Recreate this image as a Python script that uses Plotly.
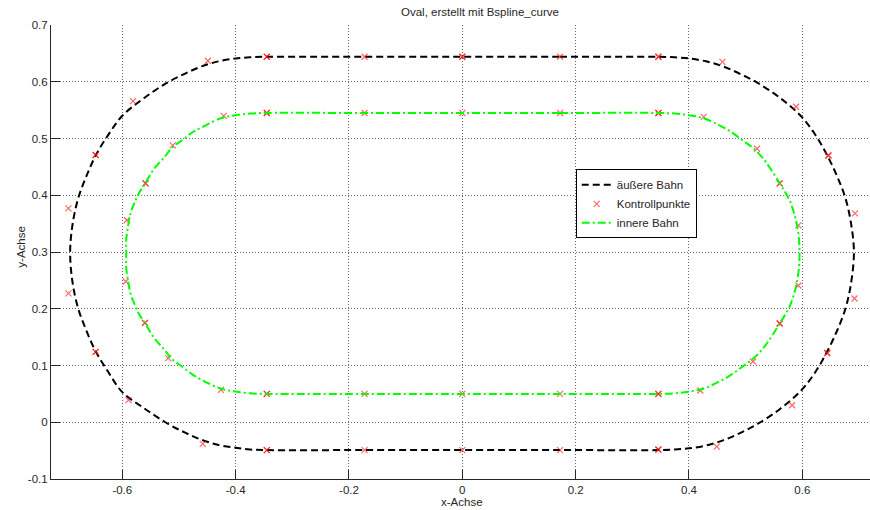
import plotly.graph_objects as go

# ---------------- data ----------------
# outer track (äußere Bahn): points on the drawn curve, starting at the top centre, clockwise
outer_x = [0.0, 0.1725, 0.345, 0.375, 0.400, 0.430, 0.460, 0.490, 0.521, 0.560, 0.597, 0.622,
           0.644, 0.662, 0.676, 0.686, 0.691, 0.686, 0.676, 0.662, 0.644, 0.622, 0.597, 0.560,
           0.521, 0.490, 0.460, 0.430, 0.400, 0.375, 0.345, 0.1725, 0.0, -0.1725, -0.345, -0.375,
           -0.400, -0.430, -0.460, -0.490, -0.524, -0.562, -0.600, -0.625, -0.647, -0.664, -0.678,
           -0.688, -0.692, -0.688, -0.678, -0.664, -0.647, -0.625, -0.600, -0.562, -0.523, -0.490,
           -0.460, -0.430, -0.400, -0.375, -0.345, -0.1725, 0.0]
outer_y = [0.644, 0.644, 0.644, 0.643, 0.641, 0.636, 0.627, 0.614, 0.598, 0.572, 0.540, 0.508,
           0.470, 0.432, 0.395, 0.350, 0.300, 0.245, 0.200, 0.163, 0.125, 0.087, 0.055, 0.023,
           -0.003, -0.019, -0.032, -0.041, -0.046, -0.048, -0.049, -0.049, -0.049, -0.049, -0.049, -0.048,
           -0.045, -0.040, -0.031, -0.018, 0.000, 0.025, 0.053, 0.089, 0.125, 0.163, 0.201,
           0.248, 0.300, 0.347, 0.394, 0.432, 0.470, 0.506, 0.540, 0.571, 0.597, 0.614,
           0.627, 0.636, 0.641, 0.643, 0.644, 0.644, 0.644]

# inner track (innere Bahn): points on the drawn curve, starting at the top centre, clockwise
inner_x = [0.0, 0.1725, 0.345, 0.375, 0.400, 0.425, 0.452, 0.472, 0.493, 0.512, 0.528, 0.545,
           0.560, 0.570, 0.578, 0.585, 0.590, 0.594, 0.595, 0.594, 0.590, 0.585, 0.578, 0.570,
           0.560, 0.545, 0.528, 0.512, 0.493, 0.472, 0.452, 0.425, 0.400, 0.375, 0.345, 0.1725,
           0.0, -0.1725, -0.345, -0.375, -0.400, -0.425, -0.457, -0.476, -0.493, -0.512, -0.525,
           -0.545, -0.560, -0.570, -0.577, -0.585, -0.590, -0.593, -0.593, -0.593, -0.590, -0.585,
           -0.577, -0.570, -0.560, -0.545, -0.525, -0.512, -0.493, -0.476, -0.457, -0.425, -0.400,
           -0.375, -0.345, -0.1725, 0.0]
inner_y = [0.545, 0.545, 0.545, 0.544, 0.541, 0.536, 0.524, 0.513, 0.498, 0.484, 0.468, 0.445,
           0.421, 0.405, 0.390, 0.370, 0.350, 0.323, 0.297, 0.272, 0.245, 0.225, 0.205, 0.190,
           0.174, 0.150, 0.127, 0.111, 0.097, 0.082, 0.071, 0.059, 0.054, 0.051, 0.050, 0.050,
           0.050, 0.050, 0.050, 0.051, 0.054, 0.059, 0.073, 0.084, 0.097, 0.111, 0.127,
           0.150, 0.175, 0.190, 0.205, 0.225, 0.250, 0.272, 0.297, 0.322, 0.345, 0.370,
           0.390, 0.405, 0.420, 0.445, 0.468, 0.484, 0.498, 0.511, 0.521, 0.536, 0.541,
           0.544, 0.545, 0.545, 0.545]

# control points (Kontrollpunkte); repeated points appear twice
ctrl_x = [
    # outer
    -0.345, -0.345, -0.1725, 0.0, 0.0, 0.1725, 0.346, 0.346,
    0.459, 0.589, 0.646, 0.646, 0.693, 0.692, 0.644, 0.644, 0.582, 0.449,
    0.346, 0.346, 0.1725, 0.0, -0.1725, -0.345, -0.345,
    -0.458, -0.589, -0.647, -0.647, -0.695, -0.695, -0.647, -0.647, -0.581, -0.449,
    # inner
    -0.345, -0.345, -0.1725, 0.0, 0.1725, 0.346, 0.346,
    0.426, 0.520, 0.560, 0.560, 0.593, 0.593, 0.560, 0.560, 0.513, 0.420,
    0.346, 0.346, 0.1725, 0.0, -0.1725, -0.345, -0.345,
    -0.426, -0.519, -0.560, -0.560, -0.594, -0.592, -0.559, -0.559, -0.511, -0.421,
]
ctrl_y = [
    # outer
    0.644, 0.644, 0.644, 0.644, 0.644, 0.644, 0.644, 0.644,
    0.635, 0.556, 0.470, 0.470, 0.368, 0.218, 0.122, 0.122, 0.030, -0.043,
    -0.048, -0.048, -0.049, -0.049, -0.049, -0.049, -0.049,
    -0.038, 0.039, 0.124, 0.124, 0.227, 0.377, 0.471, 0.471, 0.566, 0.637,
    # inner
    0.545, 0.545, 0.545, 0.545, 0.545, 0.545, 0.545,
    0.538, 0.482, 0.421, 0.421, 0.347, 0.241, 0.174, 0.174, 0.107, 0.056,
    0.050, 0.050, 0.050, 0.050, 0.050, 0.050, 0.050,
    0.057, 0.113, 0.175, 0.175, 0.248, 0.356, 0.421, 0.421, 0.488, 0.540,
]

x_ticks = [-0.6, -0.4, -0.2, 0.0, 0.2, 0.4, 0.6]
x_tick_labels = ["-0.6", "-0.4", "-0.2", "0", "0.2", "0.4", "0.6"]
y_ticks = [-0.1, 0.0, 0.1, 0.2, 0.3, 0.4, 0.5, 0.6, 0.7]
y_tick_labels = ["-0.1", "0", "0.1", "0.2", "0.3", "0.4", "0.5", "0.6", "0.7"]

title_text = "Oval, erstellt mit Bspline_curve"
x_label = "x-Achse"
y_label = "y-Achse"

# ---------------- figure ----------------
FONT = "Liberation Sans, Arial, Helvetica, sans-serif"
TXT = "#262626"

fig = go.Figure()
fig.add_trace(go.Scatter(
    x=outer_x, y=outer_y, mode="lines", name="äußere Bahn",
    line=dict(color="black", width=2, dash="7px,4px", shape="spline", smoothing=1.0),
))
fig.add_trace(go.Scatter(
    x=ctrl_x, y=ctrl_y, mode="markers", name="Kontrollpunkte",
    marker=dict(symbol="x-thin", size=6, color="rgba(255,0,0,0.6)",
                line=dict(width=1.2, color="rgba(255,0,0,0.6)")),
))
fig.add_trace(go.Scatter(
    x=inner_x, y=inner_y, mode="lines", name="innere Bahn",
    line=dict(color="#00ff00", width=2, dash="8px,3px,2px,3px", shape="spline", smoothing=1.0),
))

axis_common = dict(
    showgrid=True, gridcolor="#666666", gridwidth=1, griddash="1px,2px",
    zeroline=False, showline=True, linecolor=TXT, linewidth=1,
    ticks="inside", ticklen=9, tickcolor=TXT, tickwidth=1,
    tickfont=dict(family=FONT, size=11.5, color=TXT),
    mirror=False,
)

fig.update_xaxes(range=[-0.7258, 0.7194], tickmode="array", tickvals=x_ticks,
                 ticktext=x_tick_labels, **axis_common)
fig.update_yaxes(range=[-0.1, 0.7], tickmode="array", tickvals=y_ticks,
                 ticktext=y_tick_labels, **axis_common)

fig.update_layout(
    width=870, height=510,
    margin=dict(l=51, r=0, t=25, b=31),
    paper_bgcolor="white", plot_bgcolor="white",
    font=dict(family=FONT, size=11.5, color=TXT),
    showlegend=True,
    legend=dict(
        x=0.6407, y=0.682, xanchor="left", yanchor="top",
        bgcolor="white", bordercolor="black", borderwidth=1,
        font=dict(family=FONT, size=11.5, color=TXT),
        itemwidth=30, tracegroupgap=0,
    ),
    annotations=[
        dict(text=title_text, xref="paper", yref="paper", x=0.524, y=1.0286,
             xanchor="center", yanchor="middle", showarrow=False,
             font=dict(family=FONT, size=11.5, color=TXT)),
        dict(text=x_label, xref="paper", yref="paper", x=0.5018, y=-0.0507,
             xanchor="center", yanchor="middle", showarrow=False,
             font=dict(family=FONT, size=11.5, color=TXT)),
        dict(text=y_label, xref="paper", yref="paper", x=-0.037, y=0.511,
             xanchor="center", yanchor="middle", showarrow=False, textangle=-90,
             font=dict(family=FONT, size=11.5, color=TXT)),
    ],
)

fig.write_html("out.html")
